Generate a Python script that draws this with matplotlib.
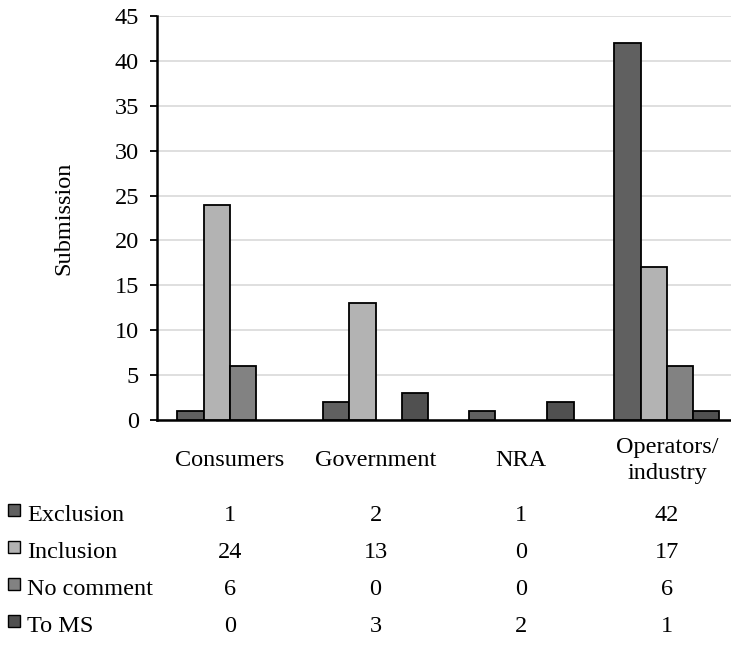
import numpy as np
import matplotlib.pyplot as plt
from matplotlib.patches import Rectangle
from matplotlib.transforms import blended_transform_factory

# submissions per stakeholder group
categories = ['Consumers', 'Government', 'NRA', 'Operators/\nindustry']
series = ['Exclusion', 'Inclusion', 'No comment', 'To MS']
exclusion = [1, 2, 1, 42]
inclusion = [24, 13, 0, 17]
no_comment = [6, 0, 0, 6]
to_ms = [0, 3, 2, 1]
values = [exclusion, inclusion, no_comment, to_ms]
colors = ['#606060', '#b3b3b3', '#828282', '#505050']

plt.rcParams['font.family'] = ['Liberation Serif', 'DejaVu Serif']
fs = 17.5

W, H = 731, 649
fig = plt.figure(figsize=(W / 100, H / 100), dpi=100)
left, right, top, bottom = 157, 731, 16, 420
ax = fig.add_axes([left / W, 1 - bottom / H, (right - left) / W, (bottom - top) / H])

x = np.arange(len(categories))
bw = 0.18
for i, (name, vals) in enumerate(zip(series, values)):
    # zero bars leave no outline in the original
    lw = [1.3 if v > 0 else 0 for v in vals]
    ax.bar(x + (i - 1.5) * bw, vals, bw, color=colors[i], edgecolor='black',
           linewidth=lw, zorder=3, label=name)

ax.set_xlim(-0.5, -0.5 + (right - left) / 145.7)
ax.set_ylim(0, 45)
ax.set_yticks(range(0, 46, 5))
ax.yaxis.grid(True, color='#d9d9d9', linewidth=1.2, zorder=0)
ax.tick_params(axis='y', labelsize=fs, length=5, width=1.3, direction='out', pad=8)
ax.tick_params(axis='x', length=0, labelsize=fs, pad=29)
ax.set_xticks(x)
ax.set_xticklabels(categories, linespacing=1.3)
for lab in ax.get_xticklabels():
    lab.set_va('center')
for s in ['top', 'right']:
    ax.spines[s].set_visible(False)
for s in ['left', 'bottom']:
    ax.spines[s].set_linewidth(1.8)
ax.set_ylabel('Submission', fontsize=fs, labelpad=29)

# data table below the chart
trans = blended_transform_factory(ax.transData, fig.transFigure)
row_base = [521, 558, 595, 632]
for i, name in enumerate(series):
    yb = 1 - row_base[i] / H
    fig.patches.append(Rectangle((8 / W, 1 - (row_base[i] - 5) / H), 12 / W, 12 / H,
                                 transform=fig.transFigure, facecolor=colors[i],
                                 edgecolor='black', linewidth=1.0))
    fig.text(27 / W, yb, name, fontsize=fs, va='baseline', ha='left')
    for j, v in enumerate(values[i]):
        ax.text(x[j], yb, str(v), transform=trans, fontsize=fs,
                va='baseline', ha='center', clip_on=False)

fig.savefig('out.png', dpi=100)
